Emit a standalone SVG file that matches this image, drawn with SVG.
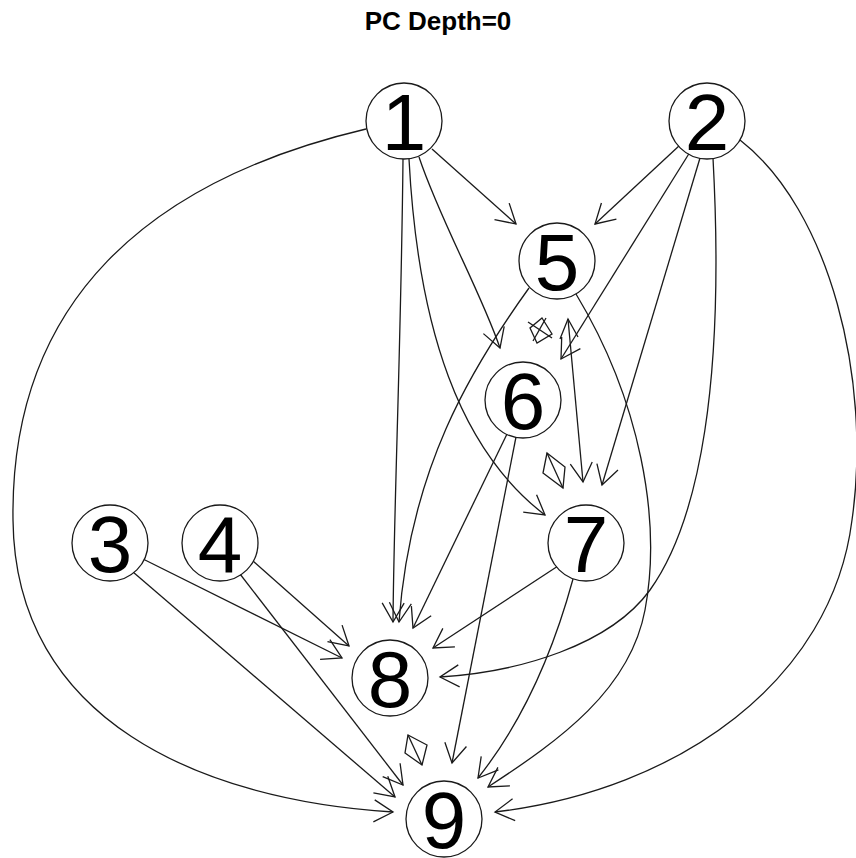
<svg xmlns="http://www.w3.org/2000/svg" width="856" height="858" viewBox="0 0 856 858">
  <defs>
    <!-- open V arrowhead used on every directed edge -->
    <marker id="arr" markerUnits="userSpaceOnUse" markerWidth="40" markerHeight="40" refX="0" refY="0" orient="auto" overflow="visible" viewBox="-30 -20 40 40">
      <path d="M-19,-11 L0,0 L-19,11" fill="none" stroke="#1a1a1a" stroke-width="1.3"/>
    </marker>
  </defs>
  <style>
    .edge { fill: none; stroke: #1a1a1a; stroke-width: 1.3; marker-end: url(#arr); }
    .stub { fill: none; stroke: #1a1a1a; stroke-width: 1.3; stroke-linejoin: miter; }
    .node circle { fill: #fff; stroke: #1a1a1a; stroke-width: 1.3; }
    .node text { font-family: "Liberation Sans", Arial, sans-serif; font-size: 80px; text-anchor: middle; fill: #000; }
    .title { font-family: "Liberation Sans", Arial, sans-serif; font-size: 26px; font-weight: bold; text-anchor: middle; fill: #000; }
  </style>

  <rect width="856" height="858" fill="#fff"/>
  <text class="title" x="438" y="30">PC Depth=0</text>

  <g id="edges">
    <!-- from 1 -->
    <path class="edge" d="M432,149 L516,224"/>
    <path class="edge" d="M419,157 C440,220 480,290 500,348"/>
    <path class="edge" d="M409,159 C418,330 460,450 545,515"/>
    <path class="edge" d="M403,159 C401,350 394,500 393,622"/>
    <path class="edge" d="M366,129 C150,180 10,300 13,520 C15,720 200,800 393,812"/>
    <!-- from 2 -->
    <path class="edge" d="M680,145 L595,224"/>
    <path class="edge" d="M690,152 L561,359"/>
    <path class="edge" d="M700,158 L602,485"/>
    <path class="edge" d="M713,158 C725,380 700,520 650,590 C610,645 520,672 440,677"/>
    <path class="edge" d="M740,140 C830,210 872,380 852,520 C832,680 680,790 495,812"/>
    <!-- from 5 -->
    <path class="edge" d="M529,288 C470,370 410,470 399,622"/>
    <path class="edge" d="M576,294 C640,400 662,520 645,610 C630,690 560,740 488,787"/>
    <path class="edge" d="M568,319 L583,482"/>
    <polyline class="stub" points="560,339 568,319 578,337"/>
    <!-- 5 - 6 -->
    <polygon class="stub" points="542,318 552,334 537,343 530,328"/>
    <polyline class="stub" points="528,322 552,338"/>
    <polyline class="stub" points="546,318 533,341"/>
    <!-- from 6 -->
    <path class="edge" d="M507,434 L413,628"/>
    <path class="edge" d="M516,437 L452,763"/>
    <!-- 6 - 7 -->
    <polygon class="stub" points="547,453 565,467 563,488 543,473"/>
    <polyline class="stub" points="547,453 563,488"/>
    <!-- from 3 and 4 -->
    <path class="edge" d="M143,559 L342,658"/>
    <path class="edge" d="M133,572 L395,797"/>
    <path class="edge" d="M253,561 L349,646"/>
    <path class="edge" d="M240,574 L403,785"/>
    <!-- from 7 -->
    <path class="edge" d="M558,566 L433,648"/>
    <path class="edge" d="M573,579 Q540,700 478,778"/>
    <!-- 8 - 9 -->
    <polygon class="stub" points="408,735 427,745 422,765 405,753"/>
    <polyline class="stub" points="408,735 422,765"/>
  </g>

  <g id="n1" class="node"><circle cx="404" cy="121" r="38"/><text x="404" y="150">1</text></g>
  <g id="n2" class="node"><circle cx="707" cy="121" r="38"/><text x="707" y="150">2</text></g>
  <g id="n3" class="node"><circle cx="110" cy="543" r="38"/><text x="110" y="572">3</text></g>
  <g id="n4" class="node"><circle cx="220" cy="543" r="38"/><text x="220" y="572">4</text></g>
  <g id="n5" class="node"><circle cx="557" cy="261" r="38"/><text x="557" y="290">5</text></g>
  <g id="n6" class="node"><circle cx="523" cy="400" r="38"/><text x="523" y="429">6</text></g>
  <g id="n7" class="node"><circle cx="586" cy="543" r="38"/><text x="586" y="572">7</text></g>
  <g id="n8" class="node"><circle cx="390" cy="678" r="38"/><text x="390" y="707">8</text></g>
  <g id="n9" class="node"><circle cx="444" cy="819" r="38"/><text x="444" y="848">9</text></g>
</svg>
